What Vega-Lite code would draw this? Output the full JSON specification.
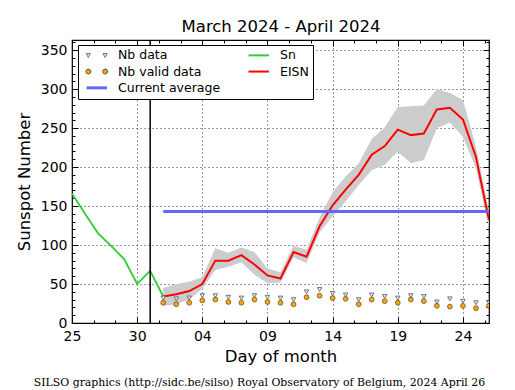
{
  "$schema": "https://vega.github.io/schema/vega-lite/v6.json",
  "width": 417,
  "height": 283,
  "autosize": {"type": "none"},
  "padding": {"left": 72, "top": 40, "right": 26, "bottom": 67},
  "background": "white",
  "title": {
    "text": "SILSO graphics (http://sidc.be/silso) Royal Observatory of Belgium, 2024 April 26",
    "orient": "bottom", "anchor": "middle", "frame": "group", "dx": -21, "offset": 12,
    "font": "DejaVu Serif", "fontSize": 10.9, "fontWeight": "normal", "color": "black"
  },
  "config": {
    "font": "DejaVu Sans",
    "view": {"stroke": "black", "strokeWidth": 1.2},
    "axis": {"labelFont": "DejaVu Sans", "titleFont": "DejaVu Sans", "domain": false, "labelColor": "black", "titleColor": "black", "tickColor": "black", "titleFontWeight": "normal", "labelFlush": false, "labelBound": false, "labelOverlap": false},
    "legend": {"strokeColor": "black", "strokeWidth": 1, "fillColor": "white"}
  },
  "resolve": {"axis": {"x": "independent", "y": "independent"}},
  "datasets": {
    "sn": [
      {"date": "2024-03-25", "value": 166},
      {"date": "2024-03-26", "value": 140},
      {"date": "2024-03-27", "value": 115},
      {"date": "2024-03-28", "value": 99},
      {"date": "2024-03-29", "value": 82},
      {"date": "2024-03-30", "value": 50},
      {"date": "2024-03-31", "value": 67},
      {"date": "2024-04-01", "value": 34}
    ],
    "eisn": [
      {"date": "2024-04-01", "eisn": 34, "lo": 22, "hi": 45, "nb": 32, "nbvalid": 26},
      {"date": "2024-04-02", "eisn": 37, "lo": 24, "hi": 50, "nb": 31, "nbvalid": 24},
      {"date": "2024-04-03", "eisn": 41, "lo": 30, "hi": 53, "nb": 32, "nbvalid": 26},
      {"date": "2024-04-04", "eisn": 50, "lo": 44, "hi": 59, "nb": 35, "nbvalid": 29},
      {"date": "2024-04-05", "eisn": 80, "lo": 68, "hi": 96, "nb": 35, "nbvalid": 30},
      {"date": "2024-04-06", "eisn": 80, "lo": 72, "hi": 90, "nb": 33, "nbvalid": 27},
      {"date": "2024-04-07", "eisn": 87, "lo": 78, "hi": 97, "nb": 32, "nbvalid": 26},
      {"date": "2024-04-08", "eisn": 75, "lo": 62, "hi": 91, "nb": 35, "nbvalid": 30},
      {"date": "2024-04-09", "eisn": 61, "lo": 51, "hi": 70, "nb": 33, "nbvalid": 27},
      {"date": "2024-04-10", "eisn": 57, "lo": 52, "hi": 65, "nb": 32, "nbvalid": 26},
      {"date": "2024-04-11", "eisn": 91, "lo": 84, "hi": 99, "nb": 30, "nbvalid": 24},
      {"date": "2024-04-12", "eisn": 85, "lo": 77, "hi": 94, "nb": 40, "nbvalid": 33},
      {"date": "2024-04-13", "eisn": 124, "lo": 116, "hi": 135, "nb": 43, "nbvalid": 35},
      {"date": "2024-04-14", "eisn": 151, "lo": 137, "hi": 168, "nb": 38, "nbvalid": 32},
      {"date": "2024-04-15", "eisn": 171, "lo": 156, "hi": 188, "nb": 36, "nbvalid": 31},
      {"date": "2024-04-16", "eisn": 190, "lo": 177, "hi": 205, "nb": 30, "nbvalid": 24},
      {"date": "2024-04-17", "eisn": 216, "lo": 196, "hi": 236, "nb": 36, "nbvalid": 30},
      {"date": "2024-04-18", "eisn": 227, "lo": 203, "hi": 251, "nb": 34, "nbvalid": 28},
      {"date": "2024-04-19", "eisn": 248, "lo": 220, "hi": 277, "nb": 32, "nbvalid": 26},
      {"date": "2024-04-20", "eisn": 241, "lo": 205, "hi": 278, "nb": 35, "nbvalid": 30},
      {"date": "2024-04-21", "eisn": 243, "lo": 209, "hi": 279, "nb": 34, "nbvalid": 28},
      {"date": "2024-04-22", "eisn": 274, "lo": 250, "hi": 300, "nb": 27, "nbvalid": 22},
      {"date": "2024-04-23", "eisn": 276, "lo": 257, "hi": 295, "nb": 31, "nbvalid": 21},
      {"date": "2024-04-24", "eisn": 261, "lo": 239, "hi": 286, "nb": 28, "nbvalid": 22},
      {"date": "2024-04-25", "eisn": 213, "lo": 198, "hi": 226, "nb": 26, "nbvalid": 19},
      {"date": "2024-04-26", "eisn": 132, "lo": 122, "hi": 142, "nb": 26, "nbvalid": 22}
    ],
    "avg": [{"start": "2024-04-01", "end": "2024-04-26", "value": 143}],
    "marker": [{"date": "2024-03-31"}]
  },
  "layer": [
    {
      "data": {"name": "eisn"},
      "mark": {"type": "area", "color": "#cccccc", "opacity": 1, "clip": true},
      "encoding": {
        "x": {"field": "date", "type": "temporal",
          "scale": {"type": "utc", "nice": false, "domain": [{"year": 2024, "month": 3, "date": 25, "utc": true}, {"year": 2024, "month": 4, "date": 26, "utc": true}]},
          "axis": {"orient": "bottom", "format": "%d", "ticks": false, "labelPadding": 6, "labelFontSize": 14, "labelAngle": 0,
            "values": [{"year": 2024, "month": 3, "date": 25, "utc": true}, {"year": 2024, "month": 3, "date": 30, "utc": true}, {"year": 2024, "month": 4, "date": 4, "utc": true}, {"year": 2024, "month": 4, "date": 9, "utc": true}, {"year": 2024, "month": 4, "date": 14, "utc": true}, {"year": 2024, "month": 4, "date": 19, "utc": true}, {"year": 2024, "month": 4, "date": 24, "utc": true}],
            "grid": true, "gridColor": "black", "gridDash": [1, 3], "gridWidth": 0.8, "gridOpacity": 1,
            "title": "Day of month", "titleFontSize": 16.5, "titlePadding": 5}},
        "y": {"field": "lo", "type": "quantitative",
          "scale": {"domain": [0, 363], "nice": false, "zero": false},
          "axis": {"orient": "left", "values": [0, 50, 100, 150, 200, 250, 300, 350], "ticks": false, "labelPadding": 5, "labelFontSize": 14,
            "grid": true, "gridColor": "black", "gridDash": [1, 3], "gridWidth": 0.8, "gridOpacity": 1,
            "title": "Sunspot Number", "titleFontSize": 16.5, "titlePadding": 8}},
        "y2": {"field": "hi"}
      }
    },
    {
      "data": {"name": "sn"},
      "mark": {"type": "line", "strokeWidth": 1.8, "clip": true},
      "encoding": {
        "x": {"field": "date", "type": "temporal",
          "scale": {"type": "utc", "nice": false, "domain": [{"year": 2024, "month": 3, "date": 25, "utc": true}, {"year": 2024, "month": 4, "date": 26, "utc": true}]},
          "axis": {"orient": "bottom", "labels": false, "grid": false, "title": null, "ticks": true, "tickSize": -6, "tickWidth": 1,
            "values": [{"year": 2024, "month": 3, "date": 25, "utc": true}, {"year": 2024, "month": 3, "date": 30, "utc": true}, {"year": 2024, "month": 4, "date": 4, "utc": true}, {"year": 2024, "month": 4, "date": 9, "utc": true}, {"year": 2024, "month": 4, "date": 14, "utc": true}, {"year": 2024, "month": 4, "date": 19, "utc": true}, {"year": 2024, "month": 4, "date": 24, "utc": true}]}},
        "y": {"field": "value", "type": "quantitative",
          "scale": {"domain": [0, 363], "nice": false, "zero": false},
          "axis": {"orient": "left", "labels": false, "grid": false, "title": null, "ticks": true, "tickSize": -6, "tickWidth": 1,
            "values": [0, 50, 100, 150, 200, 250, 300, 350]}},
        "color": {"datum": "Sn", "type": "nominal"}
      }
    },
    {
      "data": {"name": "eisn"},
      "mark": {"type": "line", "strokeWidth": 2, "clip": true},
      "encoding": {
        "x": {"field": "date", "type": "temporal",
          "scale": {"type": "utc", "nice": false, "domain": [{"year": 2024, "month": 3, "date": 25, "utc": true}, {"year": 2024, "month": 4, "date": 26, "utc": true}]},
          "axis": {"orient": "bottom", "labels": false, "grid": false, "title": null, "ticks": true, "tickSize": -3, "tickWidth": 1,
            "values": [{"year": 2024, "month": 3, "date": 26, "hours": 16, "utc": true}, {"year": 2024, "month": 3, "date": 28, "hours": 8, "utc": true}, {"year": 2024, "month": 3, "date": 31, "hours": 16, "utc": true}, {"year": 2024, "month": 4, "date": 2, "hours": 8, "utc": true}, {"year": 2024, "month": 4, "date": 5, "hours": 16, "utc": true}, {"year": 2024, "month": 4, "date": 7, "hours": 8, "utc": true}, {"year": 2024, "month": 4, "date": 10, "hours": 16, "utc": true}, {"year": 2024, "month": 4, "date": 12, "hours": 8, "utc": true}, {"year": 2024, "month": 4, "date": 15, "hours": 16, "utc": true}, {"year": 2024, "month": 4, "date": 17, "hours": 8, "utc": true}, {"year": 2024, "month": 4, "date": 20, "hours": 16, "utc": true}, {"year": 2024, "month": 4, "date": 22, "hours": 8, "utc": true}, {"year": 2024, "month": 4, "date": 25, "hours": 16, "utc": true}]}},
        "y": {"field": "eisn", "type": "quantitative",
          "scale": {"domain": [0, 363], "nice": false, "zero": false},
          "axis": {"orient": "left", "labels": false, "grid": false, "title": null, "ticks": true, "tickSize": -3, "tickWidth": 1,
            "values": [10, 20, 30, 40, 60, 70, 80, 90, 110, 120, 130, 140, 160, 170, 180, 190, 210, 220, 230, 240, 260, 270, 280, 290, 310, 320, 330, 340, 360]}},
        "color": {"datum": "EISN", "type": "nominal",
          "scale": {"domain": ["Nb data", "Nb valid data", "Current average", "Sn", "EISN"], "range": ["#555555", "#333333", "#6666ff", "#33cc33", "#ff0000"]},
          "legend": {
            "title": null, "orient": "none", "legendX": 6, "legendY": 5,
            "columns": 2, "columnPadding": 23, "rowPadding": 3.3, "padding": 4,
            "strokeColor": "black", "fillColor": "white", "cornerRadius": 0,
            "labelFont": "DejaVu Sans", "labelFontSize": 12.5, "labelColor": "black", "labelOffset": 15, "labelLimit": 200,
            "symbolSize": 144, "symbolOffset": 8.5, "symbolOpacity": 1,
            "symbolType": {"expr": "datum.value === 'Nb data' ? 'M-1.75,-0.3L-1.05,-0.3L-1.4,0.35Z M1.05,-0.3L1.75,-0.3L1.4,0.35Z' : datum.value === 'Nb valid data' ? 'M-0.98,0L-1.1,0.3L-1.4,0.42L-1.7,0.3L-1.82,0L-1.7,-0.3L-1.4,-0.42L-1.1,-0.3Z M1.82,0L1.7,0.3L1.4,0.42L1.1,0.3L0.98,0L1.1,-0.3L1.4,-0.42L1.7,-0.3Z' : 'M-1.7,0L1.7,0'"},
            "symbolFillColor": {"expr": "datum.value === 'Nb data' ? '#eeeeee' : datum.value === 'Nb valid data' ? '#ffa500' : 'transparent'"},
            "symbolStrokeWidth": {"expr": "datum.value === 'Current average' ? 3 : (datum.value === 'Sn' || datum.value === 'EISN') ? 2 : 0.8"}
          }}
      }
    },
    {
      "data": {"name": "avg"},
      "mark": {"type": "rule", "strokeWidth": 3.2},
      "encoding": {
        "x": {"field": "start", "type": "temporal",
          "scale": {"type": "utc", "nice": false, "domain": [{"year": 2024, "month": 3, "date": 25, "utc": true}, {"year": 2024, "month": 4, "date": 26, "utc": true}]},
          "axis": {"orient": "top", "labels": false, "grid": false, "ticks": true, "tickSize": -6, "tickWidth": 1,
            "values": [{"year": 2024, "month": 3, "date": 25, "utc": true}, {"year": 2024, "month": 3, "date": 30, "utc": true}, {"year": 2024, "month": 4, "date": 4, "utc": true}, {"year": 2024, "month": 4, "date": 9, "utc": true}, {"year": 2024, "month": 4, "date": 14, "utc": true}, {"year": 2024, "month": 4, "date": 19, "utc": true}, {"year": 2024, "month": 4, "date": 24, "utc": true}],
            "title": "March 2024 - April 2024", "titleFontSize": 16.5, "titleBaseline": "alphabetic", "titlePadding": 8}},
        "x2": {"field": "end"},
        "y": {"field": "value", "type": "quantitative",
          "scale": {"domain": [0, 363], "nice": false, "zero": false},
          "axis": {"orient": "right", "labels": false, "grid": false, "title": null, "ticks": true, "tickSize": -6, "tickWidth": 1,
            "values": [0, 50, 100, 150, 200, 250, 300, 350]}},
        "color": {"datum": "Current average", "type": "nominal"}
      }
    },
    {
      "data": {"name": "eisn"},
      "mark": {"type": "point", "shape": "triangle-down", "filled": true, "fill": "#f0f0f0", "stroke": "#555555", "strokeWidth": 0.8, "size": 20, "opacity": 1, "clip": true},
      "encoding": {
        "x": {"field": "date", "type": "temporal",
          "scale": {"type": "utc", "nice": false, "domain": [{"year": 2024, "month": 3, "date": 25, "utc": true}, {"year": 2024, "month": 4, "date": 26, "utc": true}]},
          "axis": {"orient": "top", "labels": false, "grid": false, "title": null, "ticks": true, "tickSize": -3, "tickWidth": 1,
            "values": [{"year": 2024, "month": 3, "date": 26, "hours": 16, "utc": true}, {"year": 2024, "month": 3, "date": 28, "hours": 8, "utc": true}, {"year": 2024, "month": 3, "date": 31, "hours": 16, "utc": true}, {"year": 2024, "month": 4, "date": 2, "hours": 8, "utc": true}, {"year": 2024, "month": 4, "date": 5, "hours": 16, "utc": true}, {"year": 2024, "month": 4, "date": 7, "hours": 8, "utc": true}, {"year": 2024, "month": 4, "date": 10, "hours": 16, "utc": true}, {"year": 2024, "month": 4, "date": 12, "hours": 8, "utc": true}, {"year": 2024, "month": 4, "date": 15, "hours": 16, "utc": true}, {"year": 2024, "month": 4, "date": 17, "hours": 8, "utc": true}, {"year": 2024, "month": 4, "date": 20, "hours": 16, "utc": true}, {"year": 2024, "month": 4, "date": 22, "hours": 8, "utc": true}, {"year": 2024, "month": 4, "date": 25, "hours": 16, "utc": true}]}},
        "y": {"field": "nb", "type": "quantitative",
          "scale": {"domain": [0, 363], "nice": false, "zero": false},
          "axis": {"orient": "right", "labels": false, "grid": false, "title": null, "ticks": true, "tickSize": -3, "tickWidth": 1,
            "values": [10, 20, 30, 40, 60, 70, 80, 90, 110, 120, 130, 140, 160, 170, 180, 190, 210, 220, 230, 240, 260, 270, 280, 290, 310, 320, 330, 340, 360]}}
      }
    },
    {
      "data": {"name": "eisn"},
      "mark": {"type": "circle", "fill": "#ffa500", "stroke": "#333333", "strokeWidth": 0.6, "size": 24, "opacity": 1, "clip": true},
      "encoding": {
        "x": {"field": "date", "type": "temporal",
          "scale": {"type": "utc", "nice": false, "domain": [{"year": 2024, "month": 3, "date": 25, "utc": true}, {"year": 2024, "month": 4, "date": 26, "utc": true}]},
          "axis": null},
        "y": {"field": "nbvalid", "type": "quantitative",
          "scale": {"domain": [0, 363], "nice": false, "zero": false},
          "axis": null}
      }
    },
    {
      "data": {"name": "marker"},
      "mark": {"type": "rule", "color": "black", "strokeWidth": 1.5},
      "encoding": {
        "x": {"field": "date", "type": "temporal",
          "scale": {"type": "utc", "nice": false, "domain": [{"year": 2024, "month": 3, "date": 25, "utc": true}, {"year": 2024, "month": 4, "date": 26, "utc": true}]},
          "axis": null}
      }
    }
  ]
}
